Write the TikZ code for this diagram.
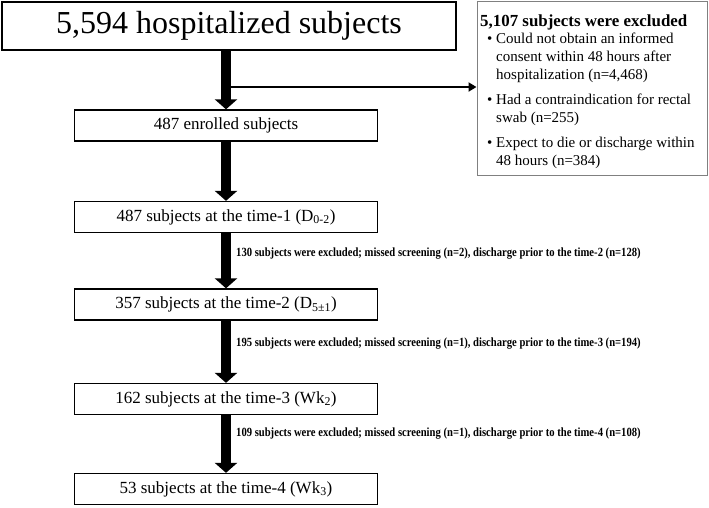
\documentclass[tikz,border=0pt]{standalone}
\usepackage{fontspec}
\setmainfont{Liberation Serif}
\usetikzlibrary{arrows.meta}
\begin{document}
\begin{tikzpicture}[x=1pt,y=-1pt,
 box/.style={draw=black,line width=1.3pt,minimum width=303pt,minimum height=31pt,inner sep=0pt,font=\fontsize{17}{19}\selectfont},
 bigarrow/.style={line width=10pt,-{Triangle[width=22pt,length=10pt]}},
 thinarrow/.style={line width=2pt,-{Triangle[width=9pt,length=8pt]}},
 excl/.style={anchor=west,inner sep=0pt,font=\bfseries\fontsize{12.5}{13}\selectfont},
 bul/.style={anchor=base west,inner sep=0pt,align=left,font=\fontsize{15}{18}\selectfont}]
\useasboundingbox (0,0) rectangle (709,507);
\node[box,minimum width=454pt,minimum height=48pt,font=\fontsize{32}{36}\selectfont] (top) at (229,26) {5,594 hospitalized subjects};
\node[draw=gray,line width=1pt,minimum width=230pt,minimum height=174pt,inner sep=0pt] (exc) at (592,88) {};
\node[anchor=base west,inner sep=0pt,font=\bfseries\fontsize{16.9}{18}\selectfont] (exct) at (480,26) {5,107 subjects were excluded};
\node[bul] (b1) at (487,43) {•};
\node[bul] (t1) at (496,79) {Could not obtain an informed\\consent within 48 hours after\\hospitalization (n=4,468)};
\node[bul] (b2) at (487,104) {•};
\node[bul] (t2) at (496,122) {Had a contraindication for rectal\\swab (n=255)};
\node[bul] (b3) at (487,147) {•};
\node[bul] (t3) at (496,165) {Expect to die or discharge within\\48 hours (n=384)};

\node[box] (e) at (226,125.5) {487 enrolled subjects};
\node[box] (t1b) at (226,217) {487 subjects at the time-1 (D\textsubscript{0-2})};
\node[box] (t2b) at (226,304.5) {357 subjects at the time-2 (D\textsubscript{5±1})};
\node[box] (t3b) at (226,399) {162 subjects at the time-3 (Wk\textsubscript{2})};
\node[box] (t4b) at (226,489) {53 subjects at the time-4 (Wk\textsubscript{3})};

\draw[bigarrow] (top.south -| e.north) -- (e.north);
\draw[bigarrow] (e) -- (t1b);
\draw[bigarrow] (t1b) -- (t2b);
\draw[bigarrow] (t2b) -- (t3b);
\draw[bigarrow] (t3b) -- (t4b);
\coordinate (h) at (231,87);
\draw[thinarrow] (h) -- (h -| exc.west);

\node[excl] (l1) at (236,254) {\scalebox{0.85}[1]{130 subjects were excluded; missed screening (n=2), discharge prior to the time-2 (n=128)}};
\node[excl] (l2) at (236,344) {\scalebox{0.85}[1]{195 subjects were excluded; missed screening (n=1), discharge prior to the time-3 (n=194)}};
\node[excl] (l3) at (236,434) {\scalebox{0.85}[1]{109 subjects were excluded; missed screening (n=1), discharge prior to the time-4 (n=108)}};
\end{tikzpicture}
\end{document}
